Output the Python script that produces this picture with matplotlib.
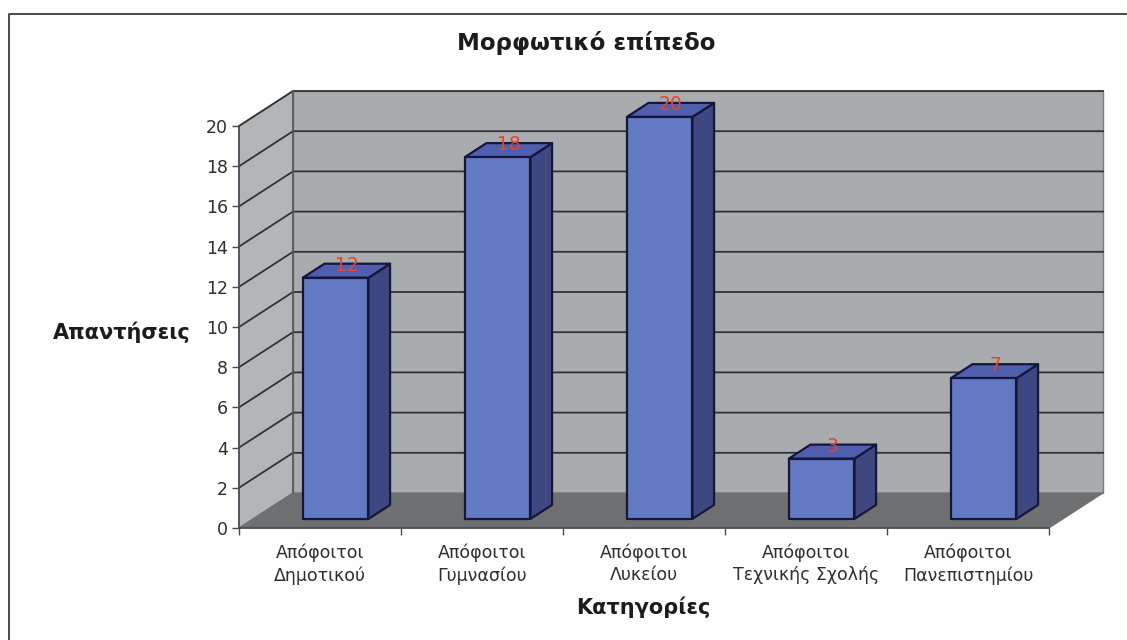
import matplotlib
matplotlib.use('Agg')
import matplotlib.pyplot as plt
from matplotlib.patches import Polygon

plt.rcParams['font.family'] = ['DejaVu Sans']

categories = ['Απόφοιτοι\nΔημοτικού', 'Απόφοιτοι\nΓυμνασίου', 'Απόφοιτοι\nΛυκείου',
              'Απόφοιτοι\nΤεχνικής Σχολής', 'Απόφοιτοι\nΠανεπιστημίου']
values = [12, 18, 20, 3, 7]
y_ticks = [0, 2, 4, 6, 8, 10, 12, 14, 16, 18, 20]

W, H = 1127, 640
DEPTH_X = 54 / 162   # depth offset in category units
DEPTH_Y = 35 / 20.1  # depth offset in value units
BAR_W = 0.405

fig = plt.figure(figsize=(W / 100, H / 100), dpi=100, facecolor='#fdfefd')

# frame of the pasted chart: only top and left edges are in the scan
frame = fig.add_axes([0, 0, 1, 1])
frame.set_xlim(0, W)
frame.set_ylim(H, 0)
frame.axis('off')
frame.plot([8.5, 8.5, W], [H, 13.5, 13.5], color='#4a4a4a', lw=1.4)

ax = fig.add_axes([239 / W, 1 - 528 / H, 810 / W, 402 / H])
ax.set_xlim(0, len(categories))
ax.set_ylim(0, 20)
ax.patch.set_visible(False)
for s in ['top', 'right']:
    ax.spines[s].set_visible(False)
for s in ['left', 'bottom']:
    ax.spines[s].set_color('#4a4a55')
    ax.spines[s].set_linewidth(1.2)
    ax.spines[s].set_zorder(6)


def proj(x, y, d):
    return (x + DEPTH_X * d, y + DEPTH_Y * d)


def face(pts, **kw):
    ax.add_patch(Polygon([proj(*p) for p in pts], closed=True, clip_on=False, **kw))


n = len(categories)
top = y_ticks[-1]
# walls and floor
face([(0, 0, 0), (0, top, 0), (0, top, 1), (0, 0, 1)], fc='#b3b5b7', ec='#7a7d80', lw=1, zorder=1)
face([(0, 0, 1), (0, top, 1), (n, top, 1), (n, 0, 1)], fc='#a9acae', ec='#7a7d80', lw=1, zorder=1)
face([(0, 0, 0), (n, 0, 0), (n, 0, 1), (0, 0, 1)], fc='#6e6f70', ec='#6e6f70', lw=0.8, zorder=2)

# gridlines on the walls
for t in y_ticks[1:]:
    pts = [proj(0, t, 0), proj(0, t, 1), proj(n, t, 1)]
    ax.plot([p[0] for p in pts], [p[1] for p in pts], color='#303236', lw=1.3,
            clip_on=False, zorder=3)
ax.plot(*zip(proj(0, 0, 1), proj(0, top, 1)), color='#55585b', lw=1.2, clip_on=False, zorder=3)

# bars
d0, d1 = 0.26, 0.66
for i, v in enumerate(values):
    x0 = i + 0.5 - BAR_W / 2 + 0.01
    x1 = x0 + BAR_W
    z = 4 + i * 0.01
    line = dict(ec='#14163c', lw=1.6, joinstyle='round', zorder=z)
    face([(x1, 0, d0), (x1, 0, d1), (x1, v, d1), (x1, v, d0)], fc='#3f4783', **line)
    face([(x0, v, d0), (x1, v, d0), (x1, v, d1), (x0, v, d1)], fc='#4f5fae', **line)
    face([(x0, 0, d0), (x1, 0, d0), (x1, v, d0), (x0, v, d0)], fc='#6279c4', **line)
    lx, ly = proj(i + 0.5, v, 0.5)
    ax.annotate(str(v), (lx, ly), xytext=(0, 3), textcoords='offset points', ha='center',
                va='center', color='#e8432f', fontsize=13.5, zorder=5, annotation_clip=False)

ax.set_yticks(y_ticks)
ax.set_xticks(range(n + 1))
ax.set_xticklabels([])
ax.tick_params(axis='y', length=5, width=1, color='#4a4a55', labelsize=12.5,
               labelcolor='#2e2e2e', pad=3)
ax.tick_params(axis='x', length=5, width=1, color='#4a4a55')
for i, c in enumerate(categories):
    ax.annotate(c, (i + 0.5, 0), xytext=(0, -11), textcoords='offset points', ha='center',
                va='top', fontsize=12.5, color='#2e2e2e', linespacing=1.3)

fig.text(586 / W, 1 - 43 / H, 'Μορφωτικό επίπεδο', ha='center', va='center',
         fontsize=16.5, fontweight='bold', color='#1c1c1c')
fig.text(122 / W, 1 - 332 / H, 'Απαντήσεις', ha='center', va='center',
         fontsize=15, fontweight='bold', color='#1c1c1c')
fig.text(643 / W, 1 - 607 / H, 'Κατηγορίες', ha='center', va='center',
         fontsize=15, fontweight='bold', color='#1c1c1c')

fig.savefig('out.png', dpi=100, facecolor=fig.get_facecolor())
